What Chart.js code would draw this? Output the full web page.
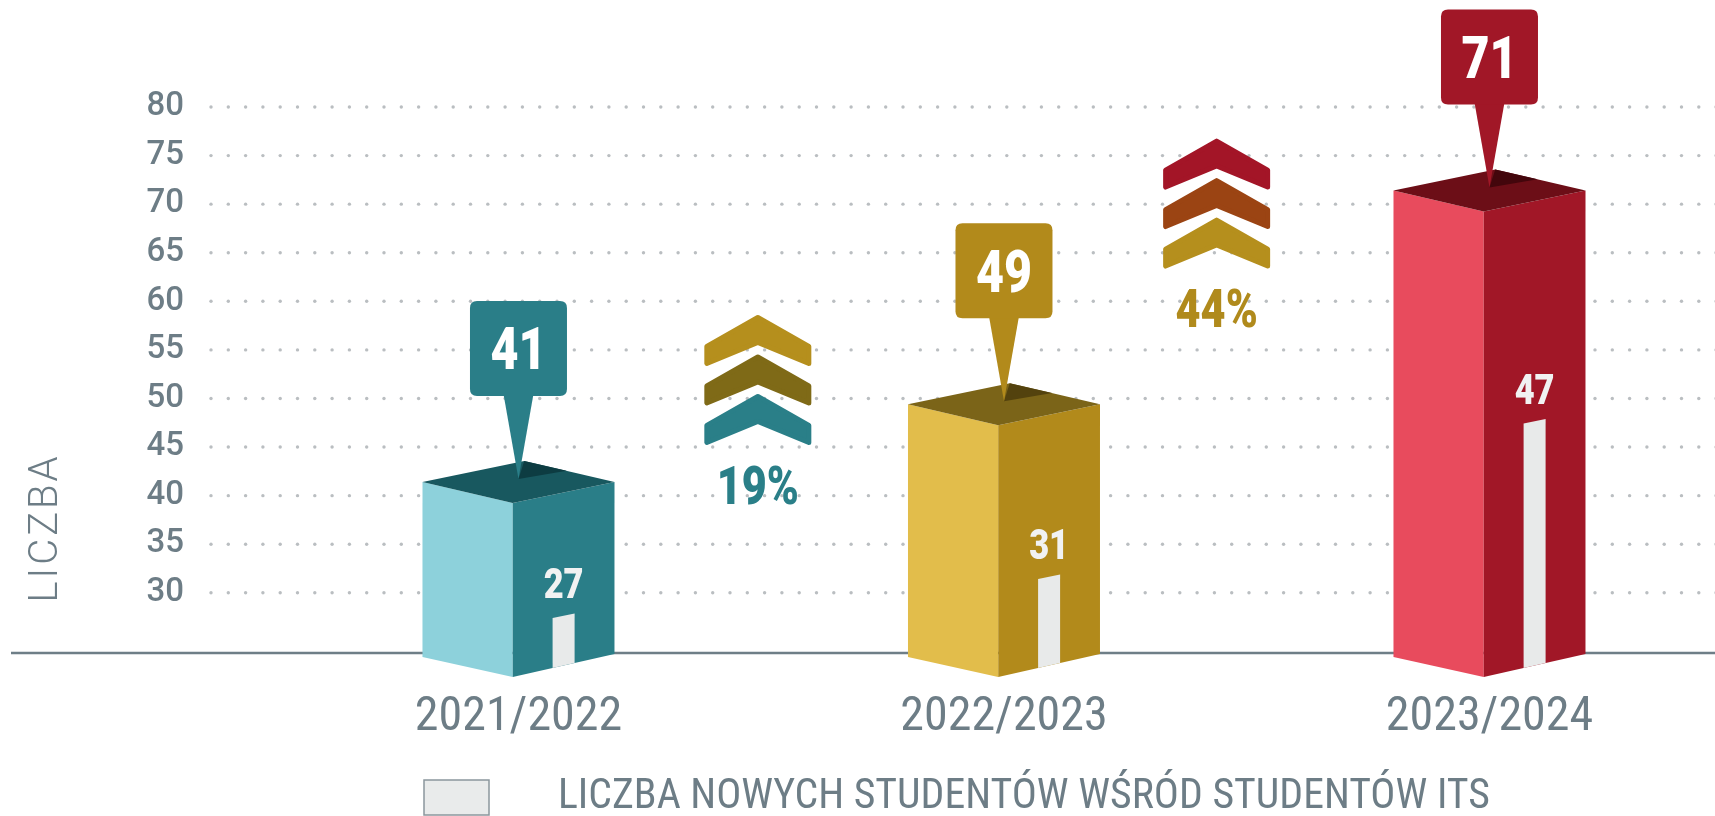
<!DOCTYPE html>
<html>
<head>
<meta charset="utf-8">
<script src="https://cdn.jsdelivr.net/npm/chart.js@4.4.1/dist/chart.umd.min.js"></script>
<style>
html,body{margin:0;padding:0;background:#ffffff;overflow:hidden}
#wrap{width:1715px;height:816px;position:relative}
canvas{display:block}
</style>
</head>
<body>
<div id="wrap"><canvas id="c" width="1715" height="816"></canvas></div>
<script>
// ---------- data ----------
const categories = ['2021/2022', '2022/2023', '2023/2024'];
const totalStudents = [41, 49, 71];
const newStudents = [27, 31, 47];
const yTicks = [30, 35, 40, 45, 50, 55, 60, 65, 70, 75, 80];
const growthLabels = ['19%', '44%'];
const yAxisTitle = 'LICZBA';
const legendLabel = 'LICZBA NOWYCH STUDENTÓW WŚRÓD STUDENTÓW ITS';

// ---------- styling / annotation placement ----------
const growthAnchors = [{x: 0.493, y: 58.55}, {x: 1.438, y: 76.7}];
const palettes = [
  {left: '#8dd1db', right: '#2a7e88', top: '#18585f', wedge: '#0d3c42'},
  {left: '#e2bd4b', right: '#b28a1b', top: '#7b6418', wedge: '#53420e'},
  {left: '#e84b5d', right: '#a11727', top: '#6c0e17', wedge: '#43060c'}
];
const chevronColors = [['#b58f1d', '#7f6a17', '#2a7f88'], ['#a31527', '#9b4413', '#b58f1d']];
const growthTextColors = ['#2a7f88', '#b08a1c'];
const axisGrey = '#6d7d86';

function fontAvailable(name) {
  const c = document.createElement('canvas').getContext('2d');
  const s = '2021/2022 WŚRÓD ITS';
  c.font = '40px monospace';
  const w1 = c.measureText(s).width;
  c.font = '40px "' + name + '", monospace';
  return c.measureText(s).width !== w1;
}
const narrowFam = ['Roboto Condensed', 'Liberation Sans Narrow', 'DejaVu Sans Condensed'].find(fontAvailable);
const condFamily = narrowFam ? '"' + narrowFam + '", Roboto, sans-serif' : 'Roboto, sans-serif';
const condWeight = narrowFam ? 'normal' : '300';
const mctx = document.createElement('canvas').getContext('2d');
mctx.font = condWeight + ' 40px ' + condFamily;
const catSize = Math.round(40 * 207 / mctx.measureText('2021/2022').width);
const legendSize = 40 * 932 / mctx.measureText(legendLabel).width;

function poly(ctx, pts, color) {
  ctx.beginPath();
  ctx.moveTo(pts[0][0], pts[0][1]);
  for (let k = 1; k < pts.length; k++) ctx.lineTo(pts[k][0], pts[k][1]);
  ctx.closePath();
  ctx.fillStyle = color;
  ctx.fill();
}
function squeezed(ctx, text, x, yMid, size, color, sx) {
  ctx.save();
  ctx.translate(x, yMid + size * 0.711 / 2);
  ctx.scale(sx, 1);
  ctx.font = '900 ' + size + 'px Roboto, sans-serif';
  ctx.fillStyle = color;
  ctx.textAlign = 'center';
  ctx.textBaseline = 'alphabetic';
  ctx.fillText(text, 0, 0);
  ctx.restore();
}
function roundRect(ctx, x, y, w, h, r, color) {
  ctx.beginPath();
  ctx.moveTo(x + r, y);
  ctx.lineTo(x + w - r, y); ctx.quadraticCurveTo(x + w, y, x + w, y + r);
  ctx.lineTo(x + w, y + h - r); ctx.quadraticCurveTo(x + w, y + h, x + w - r, y + h);
  ctx.lineTo(x + r, y + h); ctx.quadraticCurveTo(x, y + h, x, y + h - r);
  ctx.lineTo(x, y + r); ctx.quadraticCurveTo(x, y, x + r, y);
  ctx.closePath();
  ctx.fillStyle = color;
  ctx.fill();
}

const decor = {
  id: 'decor',
  beforeDatasetsDraw(chart) {
    const {ctx, chartArea: a, scales: {x, y}} = chart;
    ctx.save();
    // dotted grid
    ctx.fillStyle = '#babec1';
    y.ticks.forEach(t => {
      const py = y.getPixelForValue(t.value);
      for (let px = a.left + 3; px < chart.width + 4; px += 17.3) {
        ctx.beginPath(); ctx.arc(px, py, 1.7, 0, Math.PI * 2); ctx.fill();
      }
    });
    // baseline
    ctx.strokeStyle = '#6e7e87'; ctx.lineWidth = 2.5;
    ctx.beginPath(); ctx.moveTo(11, a.bottom - 1); ctx.lineTo(chart.width, a.bottom - 1); ctx.stroke();
    // y axis title
    ctx.save();
    ctx.translate(43, 528);
    ctx.rotate(-Math.PI / 2);
    ctx.font = '300 40px Roboto, sans-serif';
    ctx.letterSpacing = '3px';
    ctx.fillStyle = axisGrey;
    ctx.textAlign = 'center';
    ctx.textBaseline = 'alphabetic';
    ctx.fillText(yAxisTitle, 0, 14);
    ctx.restore();
    // growth chevrons
    growthAnchors.forEach((g, i) => {
      const px = x.getPixelForValue(g.x), py = y.getPixelForValue(g.y);
      const hw = 51;
      for (let k = 0; k < 3; k++) {
        const oy = py + 2 + k * 39.5;
        const pts = [[px, oy], [px + hw, oy + 29], [px + hw, oy + 46], [px, oy + 25], [px - hw, oy + 46], [px - hw, oy + 29]];
        ctx.beginPath();
        ctx.moveTo(pts[0][0], pts[0][1]);
        pts.slice(1).forEach(p => ctx.lineTo(p[0], p[1]));
        ctx.closePath();
        ctx.fillStyle = chevronColors[i][k];
        ctx.strokeStyle = chevronColors[i][k];
        ctx.lineJoin = 'round'; ctx.lineWidth = 5;
        ctx.fill(); ctx.stroke();
      }
      squeezed(ctx, growthLabels[i], px, py + 169, 54, growthTextColors[i], 0.8);
    });
    ctx.restore();
  },
  afterDatasetsDraw(chart) {
    const {ctx, chartArea: a} = chart;
    const base = a.bottom;
    const d = 21;
    const lift = 4;
    const bars = chart.getDatasetMeta(0).data;
    const whites = chart.getDatasetMeta(1).data;
    ctx.save();
    bars.forEach((el, i) => {
      const p = palettes[i];
      const x = el.x, y = el.y - lift, w = 192;
      const L = x - w / 2, R = x + w / 2, M = x - w * 0.03, B = 2 * x - M;
      // left face
      poly(ctx, [[L, y], [M, y + d], [M, base + d + 2], [L, base + 3]], p.left);
      // right face
      poly(ctx, [[M, y + d], [R, y], [R, base], [M, base + d + 2]], p.right);
      // top face
      poly(ctx, [[L, y], [B, y - d], [R, y], [M, y + d]], p.top);
      // dark wedge where the pointer pierces the top
      const tip = [x, y - 3];
      poly(ctx, [tip, [B + (R - B) * 0.47, y - d + d * 0.47], [B, y - d]], p.wedge);

      // inner bar: new students, on the right face
      const we = whites[i];
      const fw = R - M;
      const cx = M + fw * 0.5;
      const ww = 22;
      const t0 = (cx - ww / 2 - M) / fw, t1 = (cx + ww / 2 - M) / fw;
      const wy = we.y - lift;
      poly(ctx, [
        [cx - ww / 2, wy],
        [cx + ww / 2, wy - d * (t1 - t0)],
        [cx + ww / 2, base + (d + 2) * (1 - t1)],
        [cx - ww / 2, base + (d + 2) * (1 - t0)]
      ], '#e8eaea');
      squeezed(ctx, String(newStudents[i]), cx, wy - 35, 42, '#f1f2f2', 0.82);

      // callout with total
      const bw = 97, bh = 95;
      const bBottom = y - 86;
      poly(ctx, [[x - 15, bBottom - 2], [x + 15, bBottom - 2], tip], p.right);
      roundRect(ctx, x - bw / 2, bBottom - bh, bw, bh, 7, p.right);
      squeezed(ctx, String(totalStudents[i]), x, bBottom - bh / 2, 59, '#ffffff', 0.82);
    });

    // legend
    ctx.fillStyle = '#e9ebeb';
    ctx.fillRect(424, 780, 65, 35);
    ctx.strokeStyle = '#8b979d'; ctx.lineWidth = 1.5;
    ctx.strokeRect(424, 780, 65, 35);
    ctx.font = condWeight + ' ' + legendSize.toFixed(2) + 'px ' + condFamily;
    ctx.fillStyle = axisGrey;
    ctx.textAlign = 'left';
    ctx.textBaseline = 'middle';
    ctx.fillText(legendLabel, 558, 798);
    ctx.restore();
  }
};

new Chart(document.getElementById('c'), {
  type: 'bar',
  data: {
    datasets: [
      {label: 'LICZBA', data: categories.map((c, i) => ({x: i, y: totalStudents[i]})),
       backgroundColor: 'rgba(0,0,0,0)', grouped: false},
      {label: legendLabel, data: categories.map((c, i) => ({x: i, y: newStudents[i]})),
       backgroundColor: 'rgba(0,0,0,0)', grouped: false}
    ]
  },
  options: {
    responsive: false,
    animation: false,
    devicePixelRatio: 1,
    layout: {padding: {top: 107, left: 0, right: 0, bottom: 0}},
    plugins: {legend: {display: false}, tooltip: {enabled: false}},
    scales: {
      x: {
        type: 'linear', min: -0.6395, max: 2.4645, offset: false,
        afterBuildTicks: s => { s.ticks = categories.map((c, i) => ({value: i})); },
        afterFit: s => { s.height = 816 - 654; },
        ticks: {
          callback: v => categories[v],
          color: axisGrey,
          padding: 64 - catSize / 2,
          maxRotation: 0, autoSkip: false,
          font: {family: condFamily, size: catSize, weight: condWeight, lineHeight: 1}
        },
        grid: {display: false, drawTicks: false, offset: false},
        border: {display: false}
      },
      y: {
        min: 23.7, max: 80,
        afterBuildTicks: s => { s.ticks = yTicks.map(v => ({value: v})); },
        afterFit: s => { s.width = 208; },
        ticks: {color: axisGrey, padding: 24, font: {family: 'Roboto, sans-serif', size: 33, weight: '500'}},
        grid: {display: false, drawTicks: false},
        border: {display: false}
      }
    }
  },
  plugins: [decor]
});
</script>
</body>
</html>
